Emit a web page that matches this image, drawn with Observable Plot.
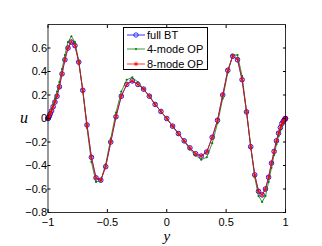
<!DOCTYPE html>
<html><head><meta charset="utf-8">
<script src="https://cdn.jsdelivr.net/npm/d3@7"></script>
<script src="https://cdn.jsdelivr.net/npm/@observablehq/plot@0.6"></script>
<style>
body{margin:0;background:#fff;}
#wrap{position:relative;width:322px;height:246px;font-family:"Liberation Sans",Arial,sans-serif;}
#legend{position:absolute;left:123px;top:27px;width:85px;height:43px;border:1px solid #000;background:#fff;box-sizing:border-box;font-size:11px;}
.row{position:absolute;left:0;height:14px;display:flex;align-items:center;}
.row svg{margin-left:3px;margin-right:2px;}
</style></head><body>
<div id="wrap"></div>
<script>
const yPts = [-1,-0.9988,-0.9952,-0.9892,-0.9808,-0.9700,-0.9569,-0.9415,-0.9239,-0.9040,-0.8819,-0.8577,-0.8315,-0.8032,-0.7730,-0.7410,-0.7071,-0.6716,-0.6344,-0.5957,-0.5556,-0.5141,-0.4714,-0.4276,-0.3827,-0.3369,-0.2903,-0.2430,-0.1951,-0.1467,-0.0980,-0.0491,0,0.0491,0.0980,0.1467,0.1951,0.2430,0.2903,0.3369,0.3827,0.4276,0.4714,0.5141,0.5556,0.5957,0.6344,0.6716,0.7071,0.7410,0.7730,0.8032,0.8315,0.8577,0.8819,0.9040,0.9239,0.9415,0.9569,0.9700,0.9808,0.9892,0.9952,0.9988,1];
const fullBT = [0,0.002,0.008,0.02,0.04,0.065,0.10,0.14,0.19,0.27,0.38,0.50,0.60,0.65,0.62,0.48,0.24,-0.055,-0.33,-0.505,-0.525,-0.41,-0.20,0.015,0.19,0.29,0.32,0.29,0.25,0.19,0.12,0.06,0,-0.065,-0.128,-0.19,-0.25,-0.30,-0.32,-0.285,-0.16,-0.015,0.20,0.41,0.53,0.50,0.33,0.056,-0.24,-0.48,-0.62,-0.65,-0.60,-0.50,-0.38,-0.28,-0.19,-0.125,-0.077,-0.043,-0.025,-0.013,-0.005,-0.001,0];
const mode4 = [0,0.003,0.01,0.025,0.05,0.08,0.12,0.17,0.23,0.31,0.42,0.54,0.65,0.70,0.65,0.49,0.23,-0.08,-0.37,-0.54,-0.53,-0.39,-0.17,0.05,0.23,0.33,0.35,0.31,0.25,0.19,0.12,0.06,0,-0.065,-0.13,-0.195,-0.26,-0.315,-0.35,-0.33,-0.21,-0.04,0.17,0.39,0.54,0.54,0.36,0.07,-0.24,-0.50,-0.66,-0.71,-0.66,-0.54,-0.42,-0.31,-0.22,-0.15,-0.10,-0.06,-0.03,-0.015,-0.006,-0.001,0];
const mode8 = [0,0.002,0.008,0.02,0.04,0.066,0.10,0.14,0.19,0.27,0.38,0.50,0.60,0.655,0.62,0.48,0.24,-0.055,-0.33,-0.505,-0.525,-0.41,-0.20,0.015,0.19,0.29,0.32,0.29,0.25,0.19,0.12,0.06,0,-0.065,-0.128,-0.19,-0.25,-0.30,-0.32,-0.285,-0.16,-0.015,0.20,0.41,0.53,0.505,0.33,0.056,-0.24,-0.48,-0.62,-0.65,-0.60,-0.50,-0.38,-0.28,-0.19,-0.125,-0.077,-0.043,-0.025,-0.013,-0.005,-0.001,0];
const xTicks = [-1,-0.5,0,0.5,1];
const yTicks = [-0.8,-0.6,-0.4,-0.2,0,0.2,0.4,0.6];
const seriesNames = ["full BT","4-mode OP","8-mode OP"];
const seriesColors = ["#0000ff","#008000","#ff0000"];

const rows = (arr) => yPts.map((y,i)=>({y, u: arr[i]}));
const dBT = rows(fullBT), d4 = rows(mode4), d8 = rows(mode8);
const fmt = d => d===0 ? "0" : String(d).replace("-", "−");
const fmtY = d => Math.abs(d)<1e-9 ? "0" : d.toFixed(1).replace("-", "−");

const plot = Plot.plot({
  width: 322, height: 246,
  marginLeft: 47.5, marginRight: 37, marginTop: 24, marginBottom: 34,
  style: {fontFamily: "'Liberation Sans', Arial, sans-serif", fontSize: "11px", color: "#000", background: "#fff"},
  x: {domain: [-1, 1]},
  y: {domain: [-0.8, 0.8]},
  marks: [
    Plot.line(dBT, {x: "y", y: "u", stroke: seriesColors[0], strokeWidth: 0.8}),
    Plot.dot(dBT, {x: "y", y: "u", r: 2.3, stroke: seriesColors[0], strokeWidth: 0.9, fill: "none"}),
    Plot.line(d4, {x: "y", y: "u", stroke: seriesColors[1], strokeWidth: 0.8}),
    Plot.dot(d4, {x: "y", y: "u", r: 1.1, fill: seriesColors[1], stroke: "none"}),
    Plot.line(d8, {x: "y", y: "u", stroke: seriesColors[2], strokeWidth: 0.8}),
    Plot.dot(d8, {x: "y", y: "u", r: 2.2, symbol: "asterisk", stroke: seriesColors[2], strokeWidth: 0.8}),
    Plot.axisX({ticks: xTicks, tickFormat: fmt, tickSize: -3, tickPadding: 9, label: null}),
    Plot.axisX({anchor: "top", ticks: xTicks, tickFormat: () => "", tickSize: -3, label: null}),
    Plot.axisY({ticks: yTicks, tickFormat: fmtY, tickSize: -3, tickPadding: 4, label: null}),
    Plot.axisY({anchor: "right", ticks: yTicks, tickFormat: () => "", tickSize: -3, label: null}),
    Plot.frame({stroke: "#000", strokeWidth: 0.8}),
    Plot.text(["u"], {frameAnchor: "left", dx: -28, dy: -1, fontSize: 16, fontStyle: "italic", fontFamily: "'Liberation Serif', serif"}),
    Plot.text(["y"], {frameAnchor: "bottom", dy: 18, lineAnchor: "top", fontSize: 15, fontStyle: "italic", fontFamily: "'Liberation Serif', serif"})
  ]
});
const wrap = document.getElementById("wrap");
wrap.appendChild(plot);

const leg = document.createElement("div");
leg.id = "legend";
seriesNames.forEach((name, i) => {
  const row = document.createElement("div");
  row.className = "row";
  row.style.top = (0 + i*14.3) + "px";
  const c = seriesColors[i];
  let marker = "";
  if (i===0) marker = `<circle cx="9" cy="5" r="2.2" fill="none" stroke="${c}" stroke-width="0.8"/>`;
  if (i===1) marker = `<circle cx="9" cy="5" r="1.1" fill="${c}"/>`;
  if (i===2) marker = `<path d="M9,2.8V7.2M7.1,3.9L10.9,6.1M7.1,6.1L10.9,3.9" stroke="${c}" stroke-width="0.8"/>`;
  row.innerHTML = `<svg width="18" height="10"><line x1="0" y1="5" x2="18" y2="5" stroke="${c}" stroke-width="0.8"/>${marker}</svg><span>${name}</span>`;
  leg.appendChild(row);
});
wrap.appendChild(leg);
</script>
</body></html>
